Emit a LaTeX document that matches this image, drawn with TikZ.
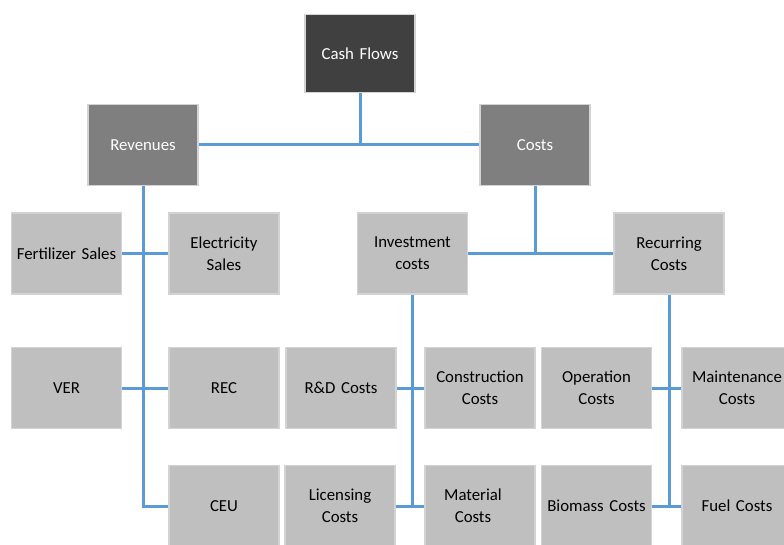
\documentclass[tikz,border=0pt]{standalone}
\usepackage{fontspec}
\setmainfont{Carlito}
\definecolor{darkbox}{HTML}{404040}
\definecolor{midbox}{HTML}{7F7F7F}
\definecolor{lightbox}{HTML}{BFBFBF}
\definecolor{rim}{HTML}{D3D3D3}
\definecolor{link}{HTML}{5B9BD5}
\begin{document}
\begin{tikzpicture}[x=1pt,y=-1pt,
  box/.style={draw=rim, line width=1.5pt, inner sep=2pt, align=center,
    minimum width=108pt, minimum height=81pt, text width=106pt,
    font=\fontsize{16.8}{22}\selectfont},
  topbox/.style={box, fill=darkbox, text=white, minimum width=106pt, minimum height=78pt},
  headbox/.style={box, fill=midbox, text=white},
  leafbox/.style={box, fill=lightbox, text=black},
  wire/.style={draw=link, line width=3pt}]
\useasboundingbox (0,0) rectangle (784,545);
\fill[white] (0,0) rectangle (784,545);
% boxes
\node[topbox] (cash) at (360,53.5) {Cash Flows};
\node[headbox] (rev) at (143,145) {Revenues};
\node[headbox] (costs) at (535,145) {Costs};
\node[leafbox] (fert) at (66.5,253.5) {Fertilizer Sales};
\node[leafbox] (elec) at (224,253.5) {Electricity\\Sales};
\node[leafbox] (inv) at (412.5,253.5) {Investment\\costs};
\node[leafbox] (recur) at (669,253.5) {Recurring\\Costs};
\node[leafbox] (ver) at (66.5,388) {VER};
\node[leafbox] (recn) at (224,388) {REC};
\node[leafbox] (rd) at (341,388) {R\&D Costs};
\node[leafbox] (cons) at (480,388) {Construction\\Costs};
\node[leafbox] (oper) at (596.5,388) {Operation\\Costs};
\node[leafbox] (maint) at (737,388) {Maintenance\\Costs};
\node[leafbox] (ceu) at (224,506) {CEU};
\node[leafbox] (lic) at (340,506) {Licensing\\Costs};
\node[leafbox] (mat) at (480,506) {\hspace*{-14pt}Material\\\hspace*{-14pt}Costs};
\node[leafbox] (bio) at (596.5,506) {Biomass Costs};
\node[leafbox] (fuel) at (737,506) {Fuel Costs};
% connectors
\draw[wire] (cash.south) -- (cash.south |- rev.east);
\draw[wire] (rev.east) -- (costs.west);
\draw[wire] (rev.south) |- (ceu.west);
\draw[wire] (fert.east) -- (elec.west);
\draw[wire] (ver.east) -- (recn.west);
\draw[wire] (costs.south) -- (costs.south |- inv.east);
\draw[wire] (inv.east) -- (recur.west);
\draw[wire] (inv.south) -- (inv.south |- lic.east);
\draw[wire] (rd.east) -- (cons.west);
\draw[wire] (lic.east) -- (mat.west);
\draw[wire] (recur.south) -- (recur.south |- fuel.west);
\draw[wire] (oper.east) -- (maint.west);
\draw[wire] (bio.east) -- (fuel.west);
\end{tikzpicture}
\end{document}
